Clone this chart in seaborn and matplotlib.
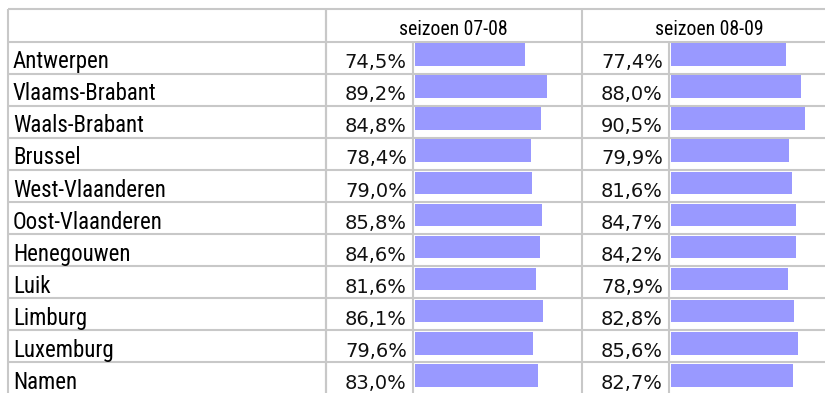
import matplotlib
matplotlib.use("Agg")
import matplotlib.pyplot as plt
import seaborn as sns
import pandas as pd

# Provinces and their percentages per season
provincies = ["Antwerpen", "Vlaams-Brabant", "Waals-Brabant", "Brussel",
              "West-Vlaanderen", "Oost-Vlaanderen", "Henegouwen", "Luik",
              "Limburg", "Luxemburg", "Namen"]
seizoen_0708 = [74.5, 89.2, 84.8, 78.4, 79.0, 85.8, 84.6, 81.6, 86.1, 79.6, 83.0]
seizoen_0809 = [77.4, 88.0, 90.5, 79.9, 81.6, 84.7, 84.2, 78.9, 82.8, 85.6, 82.7]
kolomtitels = ["seizoen 07-08", "seizoen 08-09"]

df = pd.DataFrame({"provincie": provincies,
                   "s0708": seizoen_0708,
                   "s0809": seizoen_0809})

W, H = 825, 393
sns.set_theme(style="white")
plt.rcParams["font.family"] = ["Roboto Condensed", "Liberation Sans", "DejaVu Sans"]

fig = plt.figure(figsize=(W / 100, H / 100), dpi=100)

# Table geometry (pixels, y downward)
TOP, HEAD_BOT, ROW_H = 9.0, 41.7, 32.06
LEFT = 8.0
X_LABEL_END = 325.5
COLS = [(325.5, 413.3, 581.7), (581.7, 669.3, 836.0)]  # value start, bar start, column end
PX_PER_PCT = 1.482
BAR_PAD = 1.6
BAR_H = 22.7
GRID = "#c8c8c8"
BAR_COLOR = "#9999ff"

# Background axes in pixel coordinates for grid lines and text
bg = fig.add_axes([0, 0, 1, 1])
bg.set_xlim(0, W)
bg.set_ylim(H, 0)
bg.axis("off")

n = len(provincies)
lw = 1.5
bg.hlines(TOP, LEFT, W, color=GRID, lw=lw)
for i in range(n + 1):
    y = HEAD_BOT + i * ROW_H
    bg.hlines(y, LEFT, W, color=GRID, lw=lw)
bg.vlines(LEFT, TOP, H, color=GRID, lw=lw)
bg.vlines(X_LABEL_END, TOP, H, color=GRID, lw=lw)
for vstart, bstart, cend in COLS:
    bg.vlines(vstart, TOP, H, color=GRID, lw=lw)
    bg.vlines(bstart, HEAD_BOT, H, color=GRID, lw=lw)

# Column headers
for (vstart, bstart, cend), title in zip(COLS, kolomtitels):
    bg.text((vstart + cend) / 2, TOP + 25.7, title, ha="center", va="baseline",
            fontsize=14.2, color="black")

# Row labels and values
for i, naam in enumerate(provincies):
    base = HEAD_BOT + i * ROW_H + 26.6
    bg.text(LEFT + 5, base, naam, ha="left", va="baseline", fontsize=16.5,
            color="black")
    for (vstart, bstart, cend), vals in zip(COLS, [seizoen_0708, seizoen_0809]):
        txt = f"{vals[i]:.1f}".replace(".", ",") + "%"
        bg.text(bstart - 6.5, base, txt, ha="right", va="baseline", fontsize=14.0,
                color="#111111", family="DejaVu Sans")

# In-cell bars drawn with seaborn
y_center0 = HEAD_BOT + BAR_PAD + BAR_H / 2
for (vstart, bstart, cend), col in zip(COLS, ["s0708", "s0809"]):
    x0 = bstart + BAR_PAD
    ax = fig.add_axes([x0 / W, 0, PX_PER_PCT * 100 / W, 1])
    sns.barplot(data=df, x=col, y="provincie", orient="h", color=BAR_COLOR,
                saturation=1, width=BAR_H / ROW_H, linewidth=0, ax=ax)
    ax.set_xlim(0, 100)
    ax.set_ylim((H - y_center0) / ROW_H, -y_center0 / ROW_H)
    ax.patch.set_alpha(0)
    ax.set_xlabel("")
    ax.set_ylabel("")
    ax.set_xticks([])
    ax.set_yticks([])
    for s in ax.spines.values():
        s.set_visible(False)

fig.savefig("out.png", dpi=100, facecolor="white")
